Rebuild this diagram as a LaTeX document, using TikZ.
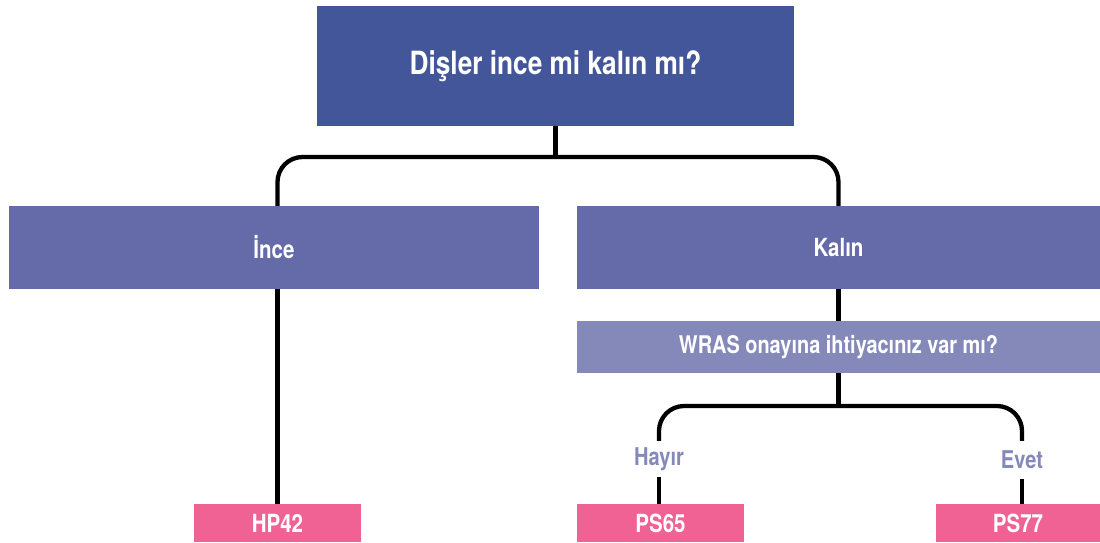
\documentclass[tikz,border=0pt]{standalone}
\usepackage{fontspec}
\setmainfont{TeX Gyre Heros}[FakeStretch=0.82]
\definecolor{topblue}{HTML}{435699}
\definecolor{midblue}{HTML}{646BA8}
\definecolor{lightblue}{HTML}{8589BA}
\definecolor{pinkc}{HTML}{EF6293}
\tikzset{
  box/.style={rectangle, inner sep=0pt, text=white, font=\bfseries\fontsize{25}{28}\selectfont},
  conn/.style={line width=4.3pt, black},
  lbl/.style={inner sep=2pt, text=lightblue, font=\bfseries\fontsize{24.5}{27}\selectfont}
}
\begin{document}
\begin{tikzpicture}[x=1pt,y=-1pt]
\useasboundingbox (0,0) rectangle (1100,542);
\node[box, fill=topblue, minimum width=477pt, minimum height=120pt, font=\bfseries\fontsize{32}{36}\selectfont] (top) at (555.5,66) {Dişler ince mi kalın mı?};
\node[box, fill=midblue, minimum width=530pt, minimum height=83pt] (ince) at (274,247.5) {İnce};
\node[box, fill=midblue, minimum width=523pt, minimum height=83pt] (kalin) at (838.5,247.5) {Kalın};
\node[box, fill=lightblue, minimum width=523pt, minimum height=52pt, font=\bfseries\fontsize{24.3}{27}\selectfont] (wras) at (838.5,347) {WRAS onayına ihtiyacınız var mı?};
\node[box, fill=pinkc, minimum width=167pt, minimum height=38pt] (hp) at (277.5,523) {HP42};
\node[box, fill=pinkc, minimum width=167pt, minimum height=38pt] (ps65) at (660.5,523) {PS65};
\node[box, fill=pinkc, minimum width=164pt, minimum height=38pt] (ps77) at (1018,523) {PS77};
\node[lbl, minimum height=36pt] (hayir) at (659,459) {Hayır};
\node[lbl, minimum height=38pt] (evet) at (1022,460) {Evet};
\draw[conn] (top.south) -- (top.south |- 0,157);
\draw[conn, rounded corners=25pt] (hp.north |- ince.north) |- (top.south |- 0,157) -| (kalin.north);
\draw[conn] (ince.south -| hp.north) -- (hp.north);
\draw[conn] (kalin.south) -- (wras.north);
\draw[conn] (wras.south) -- (wras.south |- 0,406);
\draw[conn, rounded corners=25pt] (hayir.north) |- (wras.south |- 0,406) -| (evet.north);
\draw[conn] (hayir.south) -- (ps65.north -| hayir.south);
\draw[conn] (evet.south) -- (ps77.north -| evet.south);
\end{tikzpicture}
\end{document}
